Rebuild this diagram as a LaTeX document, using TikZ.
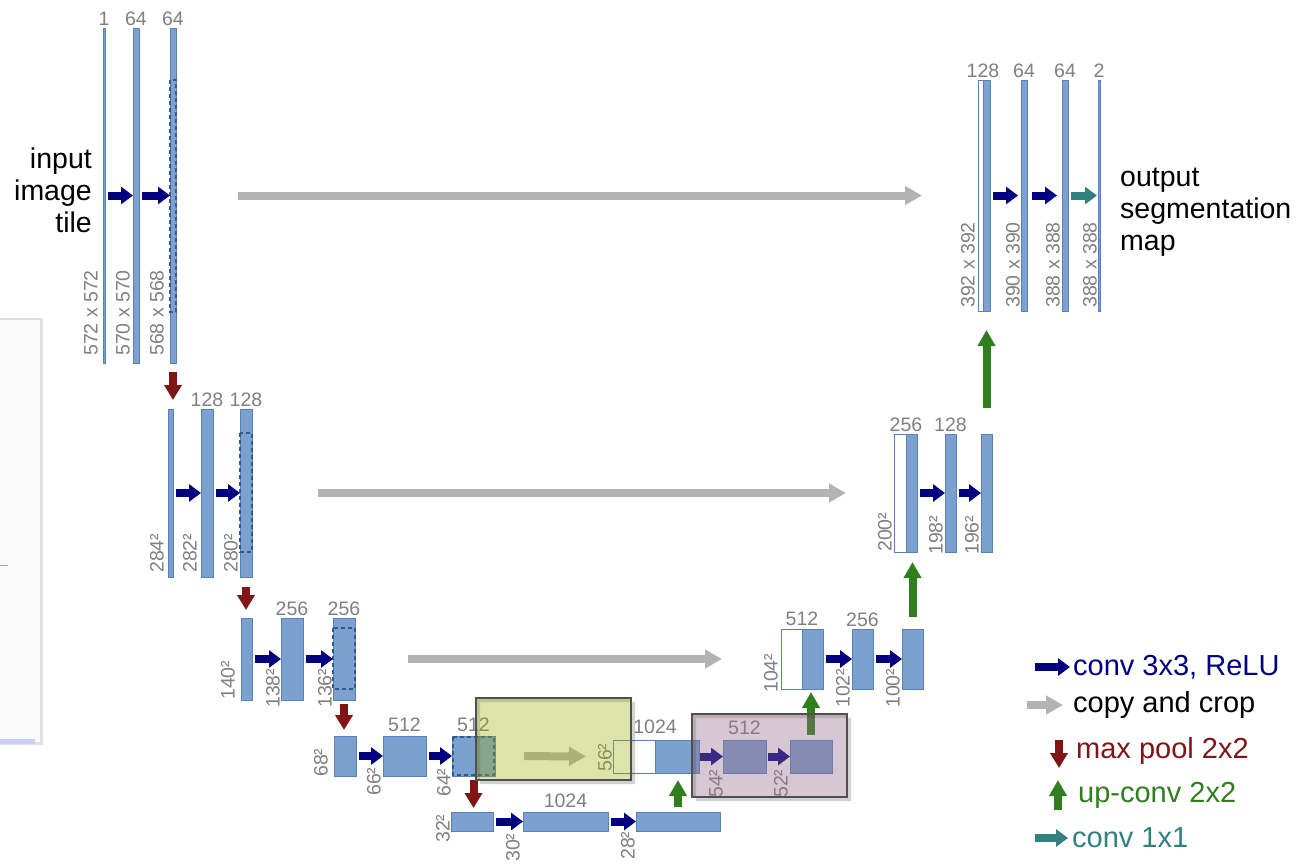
\documentclass[tikz,border=0pt]{standalone}
\usepackage{fontspec}
\setmainfont{Liberation Sans}
\usepackage{tikz}
\usetikzlibrary{arrows.meta,calc}
\definecolor{barblue}{HTML}{7CA0D0}
\definecolor{barline}{HTML}{5A80BC}
\definecolor{cropline}{HTML}{34578F}
\definecolor{navy}{HTML}{000080}
\definecolor{copygray}{HTML}{B3B3B3}
\definecolor{poolred}{HTML}{801515}
\definecolor{upgreen}{HTML}{2F7F1F}
\definecolor{oneconv}{HTML}{338080}
\definecolor{labelgray}{HTML}{808080}
\definecolor{boxyellow}{HTML}{9EAF0C}
\definecolor{boxpurple}{HTML}{966E89}
\definecolor{boxline}{HTML}{505050}

\begin{document}
\begin{tikzpicture}[x=1pt,y=-1pt,
    featmap/.style={draw=barline, fill=barblue, line width=0.8pt, inner sep=0pt, outer sep=0pt, anchor=north west},
    hollow/.style={featmap, fill=white},
    cropbox/.style={draw=cropline, line width=2.2pt, dash pattern=on 4pt off 3pt},
    convarrow/.style={-{Triangle[length=12pt,width=17pt]}, line width=8pt, navy, shorten <=3pt},
    copyarrow/.style={-{Triangle[length=17pt,width=18pt]}, line width=8pt, copygray},
    poolarrow/.style={-{Triangle[length=15pt,width=17pt]}, line width=8pt, poolred},
    uparrow/.style={-{Triangle[length=16pt,width=17pt]}, line width=8pt, upgreen},
    onearrow/.style={-{Triangle[length=12pt,width=17pt]}, line width=8pt, oneconv, shorten <=3pt},
    chanlabel/.style={font=\fontsize{19.5}{21}\selectfont, text=labelgray, inner sep=2.5pt},
    dimlabel/.style={font=\fontsize{19.5}{21}\selectfont, text=labelgray, inner sep=0pt, rotate=90, anchor=south west},
    bigtext/.style={font=\fontsize{28.5}{32}\selectfont, inner sep=0pt},
    legendtext/.style={font=\fontsize{29}{32}\selectfont, inner sep=0pt, anchor=west}]
  \useasboundingbox (0,0) rectangle (1299,863);
  \fill[white] (0,0) rectangle (1299,863);

  % stray screenshot on the left
  \fill[black,opacity=.12] (0,318) rectangle (43,745);
  \fill[black!2] (0,320) rectangle (40,742);
  \draw[black!35,line width=1pt] (0,565) -- (8,565);
  \fill[blue!20] (0,739) rectangle (35,744);

  % contracting path
  \node[featmap, minimum width=2pt, minimum height=335pt] (b10) at (103,28) {};
  \node[featmap, minimum width=6pt, minimum height=335pt] (b11) at (133,28) {};
  \node[featmap, minimum width=6pt, minimum height=335pt] (b12) at (170,28) {};
  \draw[cropbox] ([yshift=-52pt]b12.north west) rectangle ([yshift=51pt]b12.south east);

  \node[featmap, minimum width=5pt, minimum height=168pt] (b20) at (168,409) {};
  \node[featmap, minimum width=12pt, minimum height=168pt] (b21) at (201,409) {};
  \node[featmap, minimum width=12pt, minimum height=168pt] (b22) at (240,409) {};
  \draw[cropbox] ([yshift=-24pt]b22.north west) rectangle ([yshift=25pt]b22.south east);

  \node[featmap, minimum width=11pt, minimum height=82pt] (b30) at (241,618) {};
  \node[featmap, minimum width=22pt, minimum height=82pt] (b31) at (281,618) {};
  \node[featmap, minimum width=22pt, minimum height=82pt] (b32) at (333,618) {};
  \draw[cropbox] ([yshift=-10pt]b32.north west) rectangle ([yshift=11pt]b32.south east);

  \node[featmap, minimum width=22pt, minimum height=40pt] (b40) at (334,736) {};
  \node[featmap, minimum width=43pt, minimum height=40pt] (b41) at (383,736) {};
  \node[featmap, minimum width=43pt, minimum height=40pt] (b42) at (452,736) {};
  \draw[cropbox] ([shift={(1pt,-1pt)}]b42.north west) rectangle ([shift={(-1pt,1pt)}]b42.south east);

  \node[featmap, minimum width=42pt, minimum height=19pt] (b50) at (451,812) {};
  \node[featmap, minimum width=85pt, minimum height=19pt] (b51) at (523,812) {};
  \node[featmap, minimum width=84pt, minimum height=19pt] (b52) at (636,812) {};

  % expansive path
  \node[hollow, minimum width=42pt, minimum height=33pt] (u40w) at (613,740) {};
  \node[featmap, minimum width=44pt, minimum height=33pt] (u40) at (655,740) {};
  \node[featmap, minimum width=43pt, minimum height=33pt] (u41) at (723,740) {};
  \node[featmap, minimum width=42pt, minimum height=33pt] (u42) at (790,740) {};

  \node[hollow, minimum width=21pt, minimum height=60pt] (u30w) at (781,629) {};
  \node[featmap, minimum width=21pt, minimum height=60pt] (u30) at (802,629) {};
  \node[featmap, minimum width=21pt, minimum height=60pt] (u31) at (852,629) {};
  \node[featmap, minimum width=21pt, minimum height=60pt] (u32) at (902,629) {};

  \node[hollow, minimum width=12pt, minimum height=118pt] (u20w) at (894,434) {};
  \node[featmap, minimum width=11pt, minimum height=118pt] (u20) at (906,434) {};
  \node[featmap, minimum width=11pt, minimum height=118pt] (u21) at (945,434) {};
  \node[featmap, minimum width=11pt, minimum height=118pt] (u22) at (981,434) {};

  \node[hollow, minimum width=5pt, minimum height=231pt] (u10w) at (978,80) {};
  \node[featmap, minimum width=7pt, minimum height=231pt] (u10) at (983,80) {};
  \node[featmap, minimum width=6pt, minimum height=231pt] (u11) at (1021,80) {};
  \node[featmap, minimum width=6pt, minimum height=231pt] (u12) at (1062,80) {};
  \node[featmap, minimum width=2pt, minimum height=231pt] (u13) at (1098,80) {};

  % conv 3x3
  \draw[convarrow] (b10) -- (b11);
  \draw[convarrow] (b11) -- (b12);
  \draw[convarrow] (b20) -- (b21);
  \draw[convarrow] (b21) -- (b22);
  \draw[convarrow] (b30) -- (b31);
  \draw[convarrow] (b31) -- (b32);
  \draw[convarrow] (b40) -- (b41);
  \draw[convarrow] (b41) -- (b42);
  \draw[convarrow] (b50) -- (b51);
  \draw[convarrow] (b51) -- (b52);
  \draw[convarrow, shorten <=1pt] (u40) -- (u41);
  \draw[convarrow, shorten <=2pt] (u41) -- (u42);
  \draw[convarrow] (u30) -- (u31);
  \draw[convarrow] (u31) -- (u32);
  \draw[convarrow] (u20) -- (u21);
  \draw[convarrow] (u21) -- (u22);
  \draw[convarrow, shorten >=3pt] (u10) -- (u11);
  \draw[convarrow, shorten <=5pt, shorten >=5pt] (u11) -- (u12);
  \draw[onearrow, shorten >=1pt] (u12) -- (u13);

  % copy and crop
  \draw[copyarrow, shorten <=62pt, shorten >=56pt] (b12) -- (u10w);
  \draw[copyarrow, shorten <=66pt, shorten >=48pt] (b22) -- (u20w);
  \draw[copyarrow, shorten <=53pt, shorten >=59pt] (b32) -- (u30w);
  \draw[copyarrow, shorten <=29pt, shorten >=27pt] (b42) -- (u40w);

  % max pool
  \draw[poolarrow, shorten <=9pt, shorten >=9pt] (b12.south) -- (b12.south |- b20.north);
  \draw[poolarrow, shorten <=10pt, shorten >=8pt] (b22.south) -- (b22.south |- b30.north);
  \draw[poolarrow, shorten <=4pt, shorten >=6pt] (b32.south) -- (b32.south |- b40.north);
  \draw[poolarrow, shorten <=4pt, shorten >=4pt] (b42.south) -- (b42.south |- b50.north);

  % up-conv
  \draw[uparrow, shorten <=5pt, shorten >=7pt] (b52.north) -- (b52.north |- u40.south);
  \draw[uparrow, shorten <=5pt, shorten >=3pt] (u42.north) -- (u42.north |- u30.south);
  \draw[uparrow, shorten <=12pt, shorten >=10pt] (u32.north) -- (u32.north |- u20.south);
  \draw[uparrow, shorten <=26pt, shorten >=19pt] (u22.north) -- (u22.north |- u10.south);

  % channels
  \node[chanlabel, above] (c10) at (b10.north) {1};
  \node[chanlabel, above] (c11) at (b11.north) {64};
  \node[chanlabel, above] (c12) at (b12.north) {64};
  \node[chanlabel, above] (c21) at (b21.north) {128};
  \node[chanlabel, above] (c22) at (b22.north) {128};
  \node[chanlabel, above] (c31) at (b31.north) {256};
  \node[chanlabel, above] (c32) at (b32.north) {256};
  \node[chanlabel, above, yshift=2pt] (c41) at (b41.north) {512};
  \node[chanlabel, above, yshift=2pt] (c42) at (b42.north) {512};
  \node[chanlabel, above, yshift=2pt] (c51) at (b51.north) {1024};
  \node[chanlabel, above, yshift=4pt] (cu40) at (u40.north west) {1024};
  \node[chanlabel, above, yshift=3pt] (cu41) at (u41.north) {512};
  \node[chanlabel, above, yshift=1pt] (cu30) at (u30.north west) {512};
  \node[chanlabel, above] (cu31) at (u31.north) {256};
  \node[chanlabel, above] (cu20) at (u20.north west) {256};
  \node[chanlabel, above] (cu21) at (u21.north) {128};
  \node[chanlabel, above] (cu10) at (u10.north west) {128};
  \node[chanlabel, above] (cu11) at (u11.north) {64};
  \node[chanlabel, above] (cu12) at (u12.north) {64};
  \node[chanlabel, above] (cu13) at (u13.north) {2};

  % sizes
  \node[dimlabel] (d10) at (98,356) {572 x 572};
  \node[dimlabel] (d11) at (130,356) {570 x 570};
  \node[dimlabel] (d12) at (164,356) {568 x 568};
  \node[dimlabel] (d20) at (164,573) {284²};
  \node[dimlabel] (d21) at (197,573) {282²};
  \node[dimlabel] (d22) at (238,573) {280²};
  \node[dimlabel] (d30) at (235,700) {140²};
  \node[dimlabel] (d31) at (280,708) {138²};
  \node[dimlabel] (d32) at (332,708) {136²};
  \node[dimlabel] (d40) at (328,777) {68²};
  \node[dimlabel] (d41) at (381,796) {66²};
  \node[dimlabel] (d42) at (451,797) {64²};
  \node[dimlabel] (d50) at (450,843) {32²};
  \node[dimlabel] (d51) at (520,862) {30²};
  \node[dimlabel] (d52) at (635,860) {28²};
  \node[dimlabel] (du40) at (612,772) {56²};
  \node[dimlabel] (du41) at (723,798) {54²};
  \node[dimlabel] (du42) at (788,798) {52²};
  \node[dimlabel] (du30) at (778,693) {104²};
  \node[dimlabel] (du31) at (850,708) {102²};
  \node[dimlabel] (du32) at (900,708) {100²};
  \node[dimlabel] (du20) at (892,552) {200²};
  \node[dimlabel] (du21) at (943,555) {198²};
  \node[dimlabel] (du22) at (979,555) {196²};
  \node[dimlabel] (du10) at (975,308) {392 x 392};
  \node[dimlabel] (du11) at (1020,308) {390 x 390};
  \node[dimlabel] (du12) at (1060,308) {388 x 388};
  \node[dimlabel] (du13) at (1097,308) {388 x 388};

  \node[bigtext, align=right, anchor=east] (intile) at (92,190) {input\\image\\tile};
  \node[bigtext, align=left, anchor=west] (outmap) at (1120,212) {output\\segmentation\\map};

  % highlight boxes
  \fill[black, opacity=.18, even odd rule] (480,702) rectangle (635,784) (476,698) rectangle (631,780);
  \filldraw[fill=boxyellow, fill opacity=.35, draw=boxline, line width=2pt] (476,698) rectangle (631,780);
  \fill[black, opacity=.18, even odd rule] (696,718) rectangle (851,801) (692,714) rectangle (847,797);
  \filldraw[fill=boxpurple, fill opacity=.38, draw=boxline, line width=2pt] (692,714) rectangle (847,797);

  % legend
  \node[legendtext, text=navy] (lconv) at (1073,667) {conv 3x3, ReLU};
  \node[legendtext] (lcopy) at (1073,705) {copy and crop};
  \node[legendtext, text=poolred] (lpool) at (1076,751) {max pool 2x2};
  \node[legendtext, text=upgreen] (lup) at (1078,795) {up-conv 2x2};
  \node[legendtext, text=oneconv] (lone) at (1072,838) {conv 1x1};
  \coordinate (k1) at (1035,667);
  \coordinate (k2a) at (1027,705);
  \coordinate (k2b) at (1063,705);
  \coordinate (k3a) at (1059,740);
  \coordinate (k3b) at (1059,768);
  \coordinate (k4a) at (1058,810);
  \coordinate (k4b) at (1058,780);
  \coordinate (k5) at (1035,838);
  \draw[convarrow, shorten <=0pt, shorten >=3pt] (k1) -- (lconv.west);
  \draw[copyarrow] (k2a) -- (k2b);
  \draw[poolarrow] (k3a) -- (k3b);
  \draw[uparrow] (k4a) -- (k4b);
  \draw[onearrow, shorten <=0pt, shorten >=4pt] (k5) -- (lone.west);
\end{tikzpicture}
\end{document}
